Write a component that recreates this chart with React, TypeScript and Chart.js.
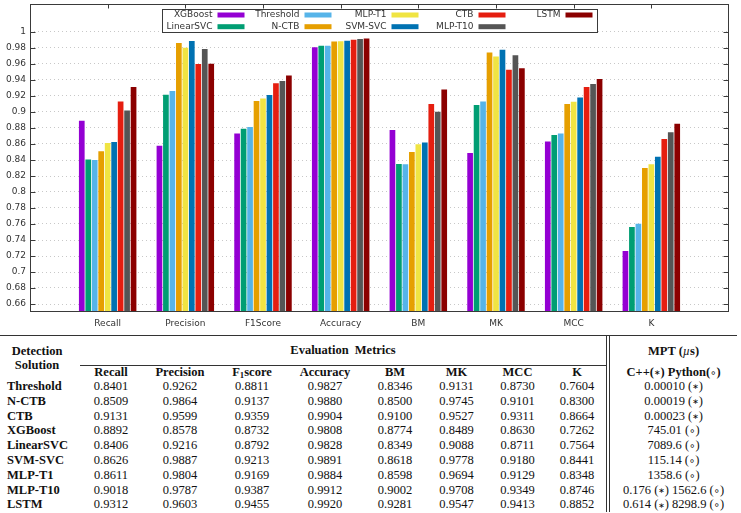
import React, { useEffect, useRef } from 'react';
import { Chart, registerables } from 'chart.js';

Chart.register(...registerables);

// ---------- data ----------
const categories = ['Recall', 'Precision', 'F1Score', 'Accuracy', 'BM', 'MK', 'MCC', 'K'];
const seriesNames = ['XGBoost', 'LinearSVC', 'Threshold', 'N-CTB', 'MLP-T1', 'SVM-SVC', 'CTB', 'MLP-T10', 'LSTM'];
const seriesColors = ['#9400d3', '#009e73', '#56b4e9', '#e69f00', '#f0e442', '#0072b2', '#e51e10', '#555555', '#8b0000'];

const xgboost = [0.8892, 0.8578, 0.8732, 0.9808, 0.8774, 0.8489, 0.8630, 0.7262];
const linearSVC = [0.8406, 0.9216, 0.8792, 0.9828, 0.8349, 0.9088, 0.8711, 0.7564];
const threshold = [0.8401, 0.9262, 0.8811, 0.9827, 0.8346, 0.9131, 0.8730, 0.7604];
const nCTB = [0.8509, 0.9864, 0.9137, 0.9880, 0.8500, 0.9745, 0.9101, 0.8300];
const mlpT1 = [0.8611, 0.9804, 0.9169, 0.9884, 0.8598, 0.9694, 0.9129, 0.8348];
const svmSVC = [0.8626, 0.9887, 0.9213, 0.9891, 0.8618, 0.9778, 0.9180, 0.8441];
const ctb = [0.9131, 0.9599, 0.9359, 0.9904, 0.9100, 0.9527, 0.9311, 0.8664];
const mlpT10 = [0.9018, 0.9787, 0.9387, 0.9912, 0.9002, 0.9708, 0.9349, 0.8746];
const lstm = [0.9312, 0.9603, 0.9455, 0.9920, 0.9281, 0.9547, 0.9413, 0.8852];

const seriesValues = [xgboost, linearSVC, threshold, nCTB, mlpT1, svmSVC, ctb, mlpT10, lstm];

const yTickValues = [0.66, 0.68, 0.7, 0.72, 0.74, 0.76, 0.78, 0.8, 0.82, 0.84, 0.86, 0.88, 0.9, 0.92, 0.94, 0.96, 0.98, 1];
const yMin = 0.65;
const yMax = 1.035;

// table
const tableRowOrder = ['Threshold', 'N-CTB', 'CTB', 'XGBoost', 'LinearSVC', 'SVM-SVC', 'MLP-T1', 'MLP-T10', 'LSTM'];
const mptValues = [
  '0.00010 (*)',
  '0.00019 (*)',
  '0.00023 (*)',
  '745.01 (o)',
  '7089.6 (o)',
  '115.14 (o)',
  '1358.6 (o)',
  '0.176 (*) 1562.6 (o)',
  '0.614 (*) 8298.9 (o)',
];
const colWidths = [80, 62, 76, 68, 78, 62, 61, 61, 58, 131];

const FONT = '"DejaVu Sans", sans-serif';

const framePlugin = {
  id: 'gnuFrame',
  afterDraw(chart: any) {
    const { ctx, chartArea: a, scales } = chart;
    const xs = scales.x;
    const ys = scales.y;
    ctx.save();
    ctx.strokeStyle = '#3a3a3a';
    ctx.lineWidth = 1;
    const line = (x1: number, y1: number, x2: number, y2: number) => {
      ctx.beginPath();
      ctx.moveTo(x1, y1);
      ctx.lineTo(x2, y2);
      ctx.stroke();
    };
    const L = Math.round(a.left) + 0.5;
    const R = Math.round(a.right) - 0.5;
    const T = Math.round(a.top) + 0.5;
    const B = Math.round(a.bottom) - 0.5;
    ctx.strokeRect(L, T, R - L, B - T);
    ys.ticks.forEach((t: any) => {
      const py = Math.round(ys.getPixelForValue(t.value)) + 0.5;
      line(L, py, L + 5, py);
      line(R - 5, py, R, py);
    });
    categories.forEach((_c, i) => {
      const px = Math.round(xs.getPixelForTick(i + 1)) + 0.5;
      line(px, T, px, T + 4);
    });

    // legend
    const boxW = 435;
    const boxH = 23;
    const cx = (a.left + a.right) / 2;
    const bl = Math.round(cx - boxW / 2) + 0.5;
    const bt = Math.round(a.top + 5) + 0.5;
    ctx.fillStyle = '#ffffff';
    ctx.fillRect(bl, bt, boxW, boxH);
    ctx.strokeRect(bl, bt, boxW, boxH);
    ctx.font = '9px ' + FONT;
    ctx.textAlign = 'right';
    ctx.textBaseline = 'middle';
    chart.data.datasets.forEach((ds: any, i: number) => {
      const col = Math.floor(i / 2);
      const row = i % 2;
      const sx = bl + 55 + col * 87;
      const sy = bt + 5.5 + row * 11.7;
      ctx.fillStyle = '#333';
      ctx.fillText(ds.label, sx - 5, sy);
      ctx.fillStyle = ds.backgroundColor;
      ctx.fillRect(sx, sy - 2.5, 27, 5);
    });
    ctx.restore();
  },
};

function BarChart() {
  const ref = useRef<HTMLCanvasElement | null>(null);
  useEffect(() => {
    if (!ref.current) return;
    const labels = ['', ...categories, ''];
    const chart = new Chart(ref.current, {
      type: 'bar',
      data: {
        labels,
        datasets: seriesNames.map((name, i) => ({
          label: name,
          data: [null, ...seriesValues[i], null],
          backgroundColor: seriesColors[i],
          borderWidth: 0,
          categoryPercentage: 0.75,
          barPercentage: 0.88,
        })),
      },
      options: {
        responsive: false,
        animation: false,
        devicePixelRatio: 1,
        layout: { padding: { left: 0, right: 12, top: 4, bottom: 0 } },
        plugins: { legend: { display: false }, tooltip: { enabled: false } },
        scales: {
          x: {
            offset: false,
            grid: { display: false, drawTicks: false },
            border: { display: false },
            ticks: {
              autoSkip: false,
              maxRotation: 0,
              minRotation: 0,
              padding: 6,
              color: '#333',
              font: { family: FONT, size: 9 },
            },
            afterFit: (s: any) => {
              s.height = 23;
              s.paddingLeft = 0;
              s.paddingRight = 0;
            },
          },
          y: {
            min: yMin,
            max: yMax,
            grid: { display: true, drawTicks: false, color: '#c8c8c8', lineWidth: 1 },
            border: { display: false, dash: [1, 3] },
            afterBuildTicks: (s: any) => {
              s.ticks = yTickValues.map((v) => ({ value: v }));
            },
            ticks: {
              padding: 4,
              color: '#333',
              font: { family: FONT, size: 9 },
              callback: (v: any) => String(parseFloat(Number(v).toFixed(2))),
            },
            afterFit: (s: any) => {
              s.width = 30;
              s.paddingTop = 0;
              s.paddingBottom = 0;
            },
          },
        },
      },
      plugins: [framePlugin],
    } as any);
    return () => chart.destroy();
  }, []);
  return <canvas ref={ref} width={741} height={335} style={{ display: 'block', width: 741, height: 335 }} />;
}

// renders "(*)" as a small asterisk operator and "(o)" as a small ring
function Sym({ text }: { text: string }) {
  const parts = text.split(/(\(\*\)|\(o\))/);
  const base: React.CSSProperties = {
    fontFamily: '"DejaVu Sans", sans-serif',
    fontWeight: 'normal',
    lineHeight: 0,
  };
  return (
    <>
      {parts.map((p, i) => {
        if (p === '(*)')
          return (
            <span key={i}>
              (<span style={{ ...base, fontSize: '0.62em', position: 'relative', top: '-0.1em' }}>{'\u2217'}</span>)
            </span>
          );
        if (p === '(o)')
          return (
            <span key={i}>
              (<span style={{ ...base, fontSize: '0.8em' }}>{'\u2218'}</span>)
            </span>
          );
        return <span key={i}>{p}</span>;
      })}
    </>
  );
}

function ResultsTable() {
  const serif = '"Liberation Serif", "Times New Roman", serif';
  const dbl = '4px double #333';
  const rowH = 14.8;
  const th: React.CSSProperties = { fontWeight: 'bold', textAlign: 'center', padding: 0, whiteSpace: 'nowrap' };
  const td: React.CSSProperties = {
    textAlign: 'center',
    padding: 0,
    whiteSpace: 'nowrap',
    height: rowH,
    lineHeight: rowH + 'px',
    overflow: 'hidden',
  };
  const metricHeader = (c: string) =>
    c === 'F1Score' ? (
      <span>
        F<sub style={{ fontSize: '0.7em', lineHeight: 0, verticalAlign: '-0.25em' }}>1</sub>score
      </span>
    ) : (
      c
    );
  return (
    <table
      style={{
        borderCollapse: 'separate',
        borderSpacing: 0,
        tableLayout: 'fixed',
        width: 737,
        borderTop: '1px solid #333',
        fontFamily: serif,
        fontSize: 12.5,
        color: '#111',
      }}
    >
      <colgroup>
        {colWidths.map((w, i) => (
          <col key={i} style={{ width: w }} />
        ))}
      </colgroup>
      <thead>
        <tr style={{ height: 30 }}>
          <th rowSpan={2} style={{ ...th, lineHeight: '14px', paddingRight: 6, verticalAlign: 'middle' }}>
            Detection
            <br />
            Solution
          </th>
          <th colSpan={8} style={{ ...th, borderBottom: '1px solid #333', wordSpacing: 3 }}>
            Evaluation Metrics
          </th>
          <th style={{ ...th, borderLeft: dbl }}>
            MPT (<i style={{ fontWeight: 'normal' }}>{'\u00b5'}</i>s)
          </th>
        </tr>
        <tr style={{ height: 13 }}>
          {categories.map((c) => (
            <th key={c} style={{ ...th, lineHeight: '13px' }}>
              {metricHeader(c)}
            </th>
          ))}
          <th style={{ ...th, lineHeight: '13px', borderLeft: dbl }}>
            <Sym text="C++(*) Python(o)" />
          </th>
        </tr>
      </thead>
      <tbody>
        {tableRowOrder.map((name, r) => {
          const vals = seriesValues[seriesNames.indexOf(name)];
          return (
            <tr key={name} style={{ height: rowH }}>
              <td style={{ ...td, textAlign: 'left', paddingLeft: 7, fontWeight: 'bold' }}>{name}</td>
              {vals.map((v, j) => (
                <td key={j} style={td}>
                  {v.toFixed(4)}
                </td>
              ))}
              <td style={{ ...td, borderLeft: dbl }}>
                <Sym text={mptValues[r]} />
              </td>
            </tr>
          );
        })}
      </tbody>
    </table>
  );
}

export default function App() {
  useEffect(() => {
    document.body.style.margin = '0';
  }, []);
  return (
    <div style={{ position: 'relative', width: 741, height: 513, overflow: 'hidden', background: '#fff' }}>
      <BarChart />
      <div style={{ position: 'absolute', left: 0, top: 335 }}>
        <ResultsTable />
      </div>
    </div>
  );
}
